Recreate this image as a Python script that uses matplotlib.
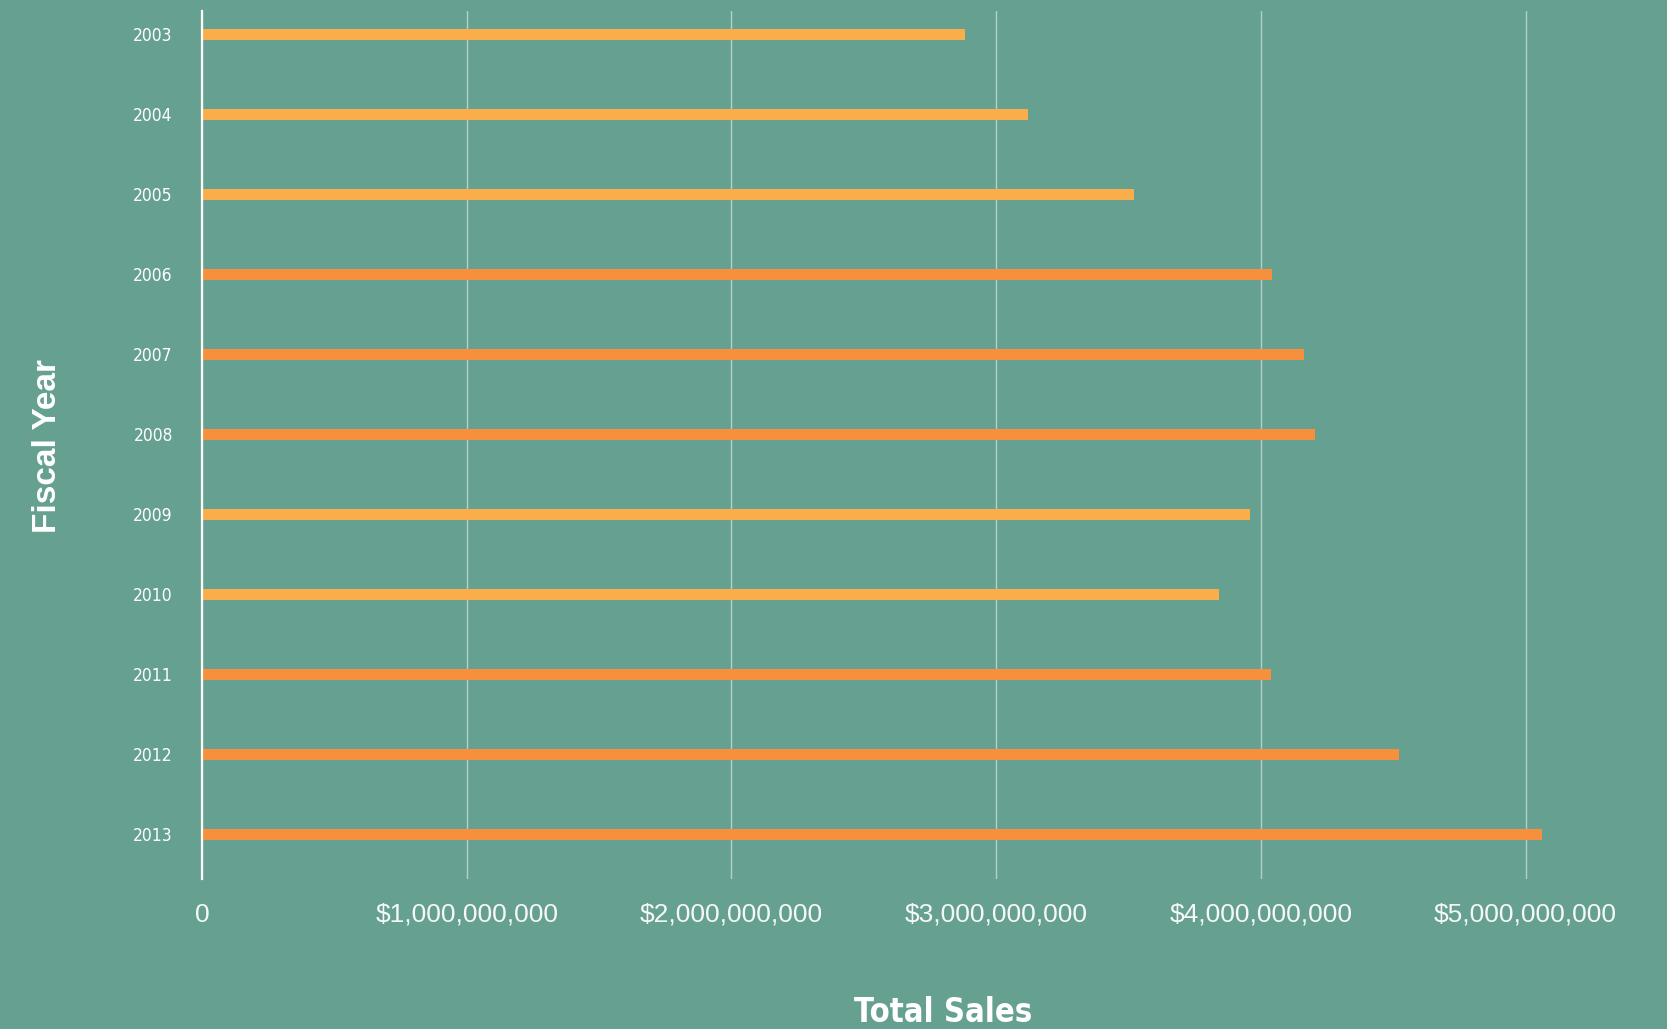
import matplotlib
matplotlib.use("Agg")
import matplotlib.pyplot as plt
from matplotlib.ticker import FuncFormatter

# data
years = ["2003", "2004", "2005", "2006", "2007", "2008",
         "2009", "2010", "2011", "2012", "2013"]
sales = [2.884e9, 3.122e9, 3.522e9, 4.043e9, 4.163e9, 4.203e9,
         3.960e9, 3.840e9, 4.040e9, 4.520e9, 5.062e9]
x_ticks = [0, 1e9, 2e9, 3e9, 4e9, 5e9]

# styles
bg = "#66A091"
light = "#F9AD4B"
dark = "#F6903D"
bar_colors = [light, light, light, dark, dark, dark,
              light, light, dark, dark, dark]
narrow = ["DejaVu Sans"]

fig = plt.figure(figsize=(16.67, 10.29), dpi=100, facecolor=bg)
ax = fig.add_axes([202 / 1667, 150 / 1029, 1403 / 1667, 868 / 1029])
ax.set_facecolor(bg)

pos = list(range(len(years)))
ax.barh(pos, sales, height=0.134, color=bar_colors, zorder=3)

ax.set_ylim(len(years) - 1 + 0.56, -0.29)
ax.set_xlim(0, 5.3e9)

ax.set_yticks(pos)
ax.set_yticklabels(years, family=narrow, fontstretch="condensed",
                   fontsize=12.5, color="white")
ax.set_xticks(x_ticks)
ax.xaxis.set_major_formatter(
    FuncFormatter(lambda v, p: "0" if v == 0 else "${:,.0f}".format(v)))
for lab in ax.get_xticklabels():
    lab.set_family(["Liberation Sans", "DejaVu Sans"])
    lab.set_fontsize(19)
    lab.set_color("#F4F8F6")

ax.tick_params(axis="y", length=0, pad=21)
ax.tick_params(axis="x", length=0, pad=17)

ax.grid(axis="x", color="white", alpha=0.5, linewidth=1.0, zorder=1)
ax.grid(axis="y", visible=False)

for side in ["top", "right", "bottom"]:
    ax.spines[side].set_visible(False)
ax.spines["left"].set_color("white")
ax.spines["left"].set_linewidth(1.6)
ax.spines["left"].set_zorder(4)

fig.text(943 / 1667, 1 - 1012 / 1029, "Total Sales", ha="center", va="center",
         family=narrow, fontstretch="condensed", fontsize=23.5,
         fontweight="bold", color="white")
fig.text(47 / 1667, 1 - 446 / 1029, "Fiscal Year", ha="center", va="center",
         rotation=90, family=["Liberation Sans", "DejaVu Sans"], fontsize=24,
         fontweight="bold", color="white")

fig.savefig("out.png", dpi=100, facecolor=bg)
